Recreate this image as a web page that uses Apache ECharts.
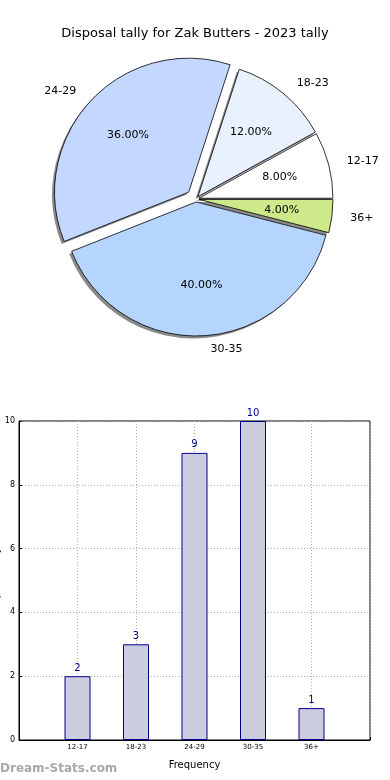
<!DOCTYPE html>
<html>
<head>
<meta charset="utf-8">
<script src="https://cdn.jsdelivr.net/npm/echarts@6/dist/echarts.min.js"></script>
<style>html,body{margin:0;padding:0;background:#fff}#c{width:390px;height:780px}</style>
</head>
<body>
<div id="c"></div>
<script>
const titleText = 'Disposal tally for Zak Butters - 2023 tally';
const categories = ['12-17', '18-23', '24-29', '30-35', '36+'];
const counts = [2, 3, 9, 10, 1];
const sliceColors = ['#ffffff', '#e9f1ff', '#c4d8ff', '#b5d5ff', '#cde98a'];
const yTicks = [0, 2, 4, 6, 8, 10];
const xAxisName = 'Frequency';
const yAxisName = 'Disposal tally';
const watermark = 'Dream-Stats.com';

const FONT = 'DejaVu Sans';
const R = 134;
const CENTER = [196, 199];
const SHADOW = 2.5;
const BIG = '24-29';
const HIDDEN = { color: 'rgba(0,0,0,0)', borderWidth: 0 };

// kind: 'shadow' | 'main' | 'pct'
function pie(kind, offset, visibleFn) {
  const center = kind === 'shadow' ? [CENTER[0] - SHADOW, CENTER[1] + SHADOW] : CENTER;
  const radius = kind === 'pct' ? R * 1.2 : R;
  const label = kind === 'main'
    ? { position: 'outside', formatter: '{b}', fontFamily: FONT, fontSize: 11, color: '#000' }
    : kind === 'pct'
      ? { position: 'inside', formatter: p => p.percent.toFixed(2) + '%', fontFamily: FONT, fontSize: 11, color: '#000' }
      : { show: false };
  return {
    type: 'pie', center: center, radius: radius, startAngle: 0, clockwise: false,
    selectedMode: 'multiple', selectedOffset: offset, avoidLabelOverlap: false,
    silent: true, animation: false, emphasis: { disabled: true },
    label: label,
    labelLine: { show: false, length: R * 0.1, length2: 0 },
    data: categories.map((c, i) => {
      const vis = visibleFn(c);
      let style = HIDDEN;
      if (vis && kind === 'main') style = { color: sliceColors[i], borderColor: '#000', borderWidth: 0.8 };
      if (vis && kind === 'shadow') style = { color: '#8a8a8a', borderWidth: 0 };
      return {
        name: c, value: counts[i], selected: true,
        itemStyle: style,
        label: { show: vis && kind !== 'shadow' },
        labelLine: { show: false }
      };
    })
  };
}

const chart = echarts.init(document.getElementById('c'), null, { renderer: 'canvas' });
chart.setOption({
  animation: false,
  backgroundColor: '#fff',
  title: {
    text: titleText, left: 'center', top: 22,
    textStyle: { fontFamily: FONT, fontSize: 13, fontWeight: 'normal', color: '#000' }
  },
  graphic: [{
    type: 'text', left: 0, top: 763,
    style: { text: watermark, fill: '#a8a8a8', font: 'bold 12px "DejaVu Sans"' }
  }],
  grid: {
    left: 19, right: 20, top: 421, bottom: 40, show: true, borderColor: '#000', borderWidth: 1,
    containLabel: false, outerBoundsMode: 'none'
  },
  xAxis: {
    type: 'value', min: -1, max: 5, interval: 1,
    name: xAxisName, nameLocation: 'middle', nameGap: 20,
    nameTextStyle: { fontFamily: FONT, fontSize: 10, color: '#000' },
    axisLine: { show: true, onZero: false, lineStyle: { color: '#000' } },
    axisTick: { show: true, inside: true, length: 3, lineStyle: { color: '#000' } },
    axisLabel: { formatter: v => categories[v] || '', fontFamily: FONT, fontSize: 7, color: '#000', margin: 4 },
    splitLine: { show: true, lineStyle: { color: '#b0b0b0', type: [1, 2] } }
  },
  yAxis: {
    type: 'value', min: yTicks[0], max: yTicks[yTicks.length - 1], interval: 2,
    name: yAxisName, nameLocation: 'middle', nameGap: 18, nameRotate: 90, nameMoveOverlap: false,
    nameTextStyle: { fontFamily: FONT, fontSize: 10, color: '#000' },
    axisLine: { show: true, onZero: false, lineStyle: { color: '#000' } },
    axisTick: { show: true, inside: true, length: 3, lineStyle: { color: '#000' } },
    axisLabel: { fontFamily: FONT, fontSize: 8, color: '#000', margin: 4 },
    splitLine: { show: true, lineStyle: { color: '#b0b0b0', type: [1, 2] } }
  },
  series: [
    pie('shadow', 3, c => c !== BIG),
    pie('shadow', 10, c => c === BIG),
    pie('main', 3, c => c !== BIG),
    pie('main', 10, c => c === BIG),
    pie('pct', 3, c => c !== BIG),
    pie('pct', 10, c => c === BIG),
    {
      type: 'bar', barWidth: 26, silent: true,
      data: categories.map((c, i) => [i, counts[i]]),
      itemStyle: { color: '#ccccdf', borderColor: '#00008b', borderWidth: 1 },
      label: { show: true, position: 'top', distance: 3, color: '#00008b', fontFamily: FONT, fontSize: 10 }
    }
  ]
});
</script>
</body>
</html>
